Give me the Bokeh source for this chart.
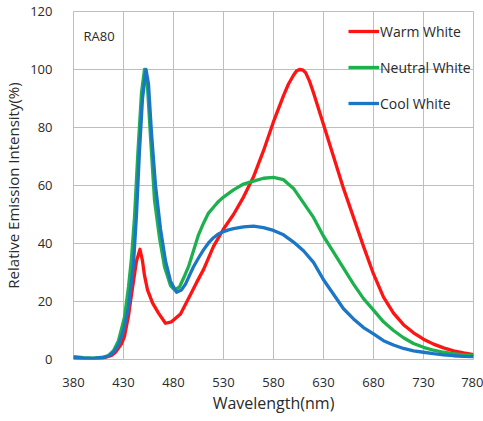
from bokeh.plotting import figure
from bokeh.models import FixedTicker, Legend, LegendItem, Label
from bokeh.embed import file_html
from bokeh.resources import INLINE

# ---- data ----
wl_warm = [380,390,400,410,418,422,428,431,435,437,440,443,446.5,449,451,454,459,465,472,478,
           487,495,503,510,520,530,540,550,560,570,580,590,595,600,603,606,609,612,616,620,
           630,640,650,660,670,680,690,700,710,720,730,740,750,760,770,780]
warm = [0.5,0.3,0.3,0.5,1.4,2.5,5.4,8,15,20,27,34,38,34,29,24,19.5,16,12.5,13,
        15.7,21,26.5,31,39,45,50,56,63,72,82,91,95,98,99.5,100,99.9,99,96,92,
        81,70,59,49,39,29.5,21.5,16,12,9.2,7,5.3,4,3,2.3,1.7]

wl_neutral = [380,390,400,410,415,420,425,431,435,438,441,444.5,448,451,454,457.5,461,466,471,477,
              481,486,490,495,500,505,510,515,520,525,530,540,550,560,570,580,590,600,610,620,
              630,640,650,660,670,680,690,700,710,720,730,740,750,760,770,780]
neutral = [1.0,0.6,0.5,0.8,1.4,3,6.5,14.6,25,35,49,72,92,100,94,74,55,42,32,25.5,
           24,25,28,32,37.5,43,47,50.5,52.5,54.5,56,58.5,60.5,61.5,62.5,62.8,62,59,54,49,
           42.5,37,31.5,26,21,17,13,10,7.5,5.5,4.2,3.2,2.5,2,1.6,1.4]

wl_cool = [380,390,400,410,415,420,425,430,435,440,443,446,449,452.5,455,458,462,467,472,477,
           483,488,492,496,500,505,510,515,520,525,530,535,540,550,560,570,580,590,600,610,
           620,630,640,650,660,670,680,690,700,710,720,730,740,750,760,770,780]
cool = [0.8,0.5,0.4,0.7,1.2,2.5,5,10,18,33,50,72,90,100,95,78,60,45,34,27,
        23.2,24,26,29,32,35,37.8,40.2,42,43.3,44.1,44.7,45.1,45.7,46,45.5,44.5,43,40.5,37.5,
        33.5,27.5,22.5,17.5,14,11,8.8,6.5,5,3.8,3,2.5,2,1.6,1.3,1.1,1.0]

series_names = ["Warm White", "Neutral White", "Cool White"]
series_colors = ["#FF1414", "#1DB14E", "#1C76C6"]
x_ticks = [380, 430, 480, 530, 580, 630, 680, 730, 780]
y_ticks = [0, 20, 40, 60, 80, 100, 120]
annotation = "RA80"

FONT = "Open Sans"
TXT = "#2A2A2A"
GRID = "#BEBEBE"

p = figure(width=483, height=421, output_backend="svg", toolbar_location=None,
           x_range=(380, 780), y_range=(0, 120),
           min_border_left=68, min_border_right=10, min_border_top=11, min_border_bottom=62)

p.background_fill_color = "white"
p.border_fill_color = "white"
p.outline_line_color = GRID
p.outline_line_width = 1

p.xaxis.ticker = FixedTicker(ticks=x_ticks)
p.yaxis.ticker = FixedTicker(ticks=y_ticks)
for ax in (p.xaxis[0], p.yaxis[0]):
    ax.axis_line_color = None
    ax.major_tick_line_color = None
    ax.minor_tick_line_color = None
    ax.major_label_text_font = FONT
    ax.major_label_text_font_size = "13px"
    ax.major_label_text_color = TXT
    ax.axis_label_text_font = FONT
    ax.axis_label_text_font_size = "15px"
    ax.axis_label_text_font_style = "normal"
    ax.axis_label_text_color = TXT
p.xaxis.axis_label_text_font_size = "16px"
p.xaxis.axis_label = "Wavelength(nm)"
p.yaxis.axis_label = "Relative Emission Intensity(%)"
p.xaxis.major_label_standoff = 12
p.yaxis.major_label_standoff = 15
p.xaxis.axis_label_standoff = 2
p.yaxis.axis_label_standoff = 4

p.xgrid.grid_line_color = GRID
p.ygrid.grid_line_color = GRID
p.xgrid.grid_line_width = 1
p.ygrid.grid_line_width = 1

r_w = p.line(wl_warm, warm, line_color=series_colors[0], line_width=3.3, line_join="round")
r_n = p.line(wl_neutral, neutral, line_color=series_colors[1], line_width=3.3, line_join="round")
r_c = p.line(wl_cool, cool, line_color=series_colors[2], line_width=3.3, line_join="round")

legend = Legend(items=[LegendItem(label=series_names[0], renderers=[r_w]),
                       LegendItem(label=series_names[1], renderers=[r_n]),
                       LegendItem(label=series_names[2], renderers=[r_c])],
                location=(275, 246), orientation="vertical")
legend.border_line_color = None
legend.background_fill_alpha = 0
legend.padding = 0
legend.margin = 0
legend.spacing = 16
legend.glyph_width = 31
legend.label_standoff = 1
legend.label_text_font = FONT
legend.label_text_font_size = "14px"
legend.label_text_color = TXT
p.add_layout(legend, "center")

p.add_layout(Label(x=390, y=111.5, text=annotation, text_font=FONT, text_font_size="13px",
                   text_color=TXT, text_baseline="middle"))

open("out.html", "w").write(file_html(p, INLINE))
